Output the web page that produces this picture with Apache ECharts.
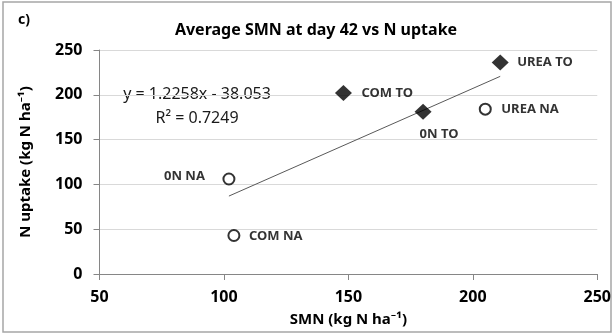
<!DOCTYPE html>
<html>
<head>
<meta charset="utf-8">
<script src="https://cdn.jsdelivr.net/npm/echarts@6/dist/echarts.min.js"></script>
<style>
  html, body { margin: 0; padding: 0; background: #fff; }
  #chart { width: 614px; height: 334px; }
</style>
</head>
<body>
<div id="chart"></div>
<script>
// treatments with top dressing (filled diamonds)
var toNames = ['COM TO', '0N TO', 'UREA TO'];
var toSmn = [148, 180, 211];
var toUptake = [202, 181, 236];

// treatments without (open circles)
var naNames = ['0N NA', 'COM NA', 'UREA NA'];
var naSmn = [102, 104, 205];
var naUptake = [106, 43, 184];

// linear trendline printed on the chart
var slope = 1.2258;
var intercept = -38.053;
var r2 = 0.7249;

var xTicks = [50, 100, 150, 200, 250];
var yTicks = [0, 50, 100, 150, 200, 250];

var font = 'Noto Sans';

// where each point label sits relative to its marker
var labelPlace = {
    'COM TO':  { align: 'left',   offset: [18, 0] },
    '0N TO':   { align: 'center', offset: [16, 22] },
    'UREA TO': { align: 'left',   offset: [17, 0] },
    '0N NA':   { align: 'right',  offset: [-24, -3] },
    'COM NA':  { align: 'left',   offset: [15, 1] },
    'UREA NA': { align: 'left',   offset: [16, 0] }
};

function points(names, xs, ys) {
    var res = [];
    for (var i = 0; i < names.length; i++) {
        var p = labelPlace[names[i]];
        res.push({
            name: names[i],
            value: [xs[i], ys[i]],
            label: {
                show: true,
                position: 'inside',
                align: p.align,
                verticalAlign: 'middle',
                offset: p.offset,
                formatter: '{b}',
                color: '#000',
                fontFamily: font,
                fontWeight: 'bold',
                fontSize: 13
            }
        });
    }
    return res;
}

var allX = toSmn.concat(naSmn);
var xMin = Math.min.apply(null, allX);
var xMax = Math.max.apply(null, allX);
var trend = [
    [xMin, slope * xMin + intercept],
    [xMax, slope * xMax + intercept]
];

var chart = echarts.init(document.getElementById('chart'));
var option = {
    animation: false,
    backgroundColor: '#fff',
    title: {
        text: 'Average SMN at day 42 vs N uptake',
        left: 311,
        textAlign: 'center',
        top: 17,
        textStyle: { fontFamily: font, fontWeight: 'bold', fontSize: 16, color: '#000' }
    },
    grid: { left: 99.5, right: 16, top: 50, bottom: 60 },
    xAxis: {
        type: 'value',
        min: xTicks[0],
        max: xTicks[xTicks.length - 1],
        interval: 50,
        name: 'SMN (kg N ha\u207B\u00B9)',
        nameLocation: 'middle',
        nameGap: 38,
        nameTextStyle: { fontFamily: font, fontWeight: 'bold', fontSize: 15, color: '#000' },
        axisLine: { show: true, onZero: false, lineStyle: { color: '#868686', width: 1 } },
        axisTick: { show: true, length: 6, lineStyle: { color: '#868686' } },
        axisLabel: { margin: 15, fontFamily: font, fontWeight: 'bold', fontSize: 16, color: '#000' },
        splitLine: { show: false }
    },
    yAxis: {
        type: 'value',
        min: yTicks[0],
        max: yTicks[yTicks.length - 1],
        interval: 50,
        name: 'N uptake (kg N ha\u207B\u00B9)',
        nameLocation: 'middle',
        nameGap: 66,
        nameTextStyle: { fontFamily: font, fontWeight: 'bold', fontSize: 15, color: '#000' },
        axisLine: { show: true, lineStyle: { color: '#868686', width: 1 } },
        axisTick: { show: true, length: 6, lineStyle: { color: '#868686' } },
        axisLabel: { margin: 17, fontFamily: font, fontWeight: 'bold', fontSize: 16, color: '#000' },
        splitLine: { show: true, lineStyle: { color: '#d9d9d9', width: 1 } }
    },
    graphic: [
        { type: 'rect', silent: true, shape: { x: 3, y: 2, width: 608, height: 330 },
          style: { fill: 'none', stroke: '#a6a6a6', lineWidth: 1.5 } },
        { type: 'text', left: 18, top: 13,
          style: { text: 'c)', fontFamily: font, fontWeight: 'bold', fontSize: 14, fill: '#000' } },
        { type: 'text', x: 197, y: 94,
          style: { text: 'y = ' + slope + 'x - ' + Math.abs(intercept).toFixed(3), align: 'center', verticalAlign: 'middle',
                   fontFamily: font, fontSize: 16, fill: '#1a1a1a' } },
        { type: 'text', x: 197, y: 118,
          style: { text: 'R\u00B2 = ' + r2, align: 'center', verticalAlign: 'middle',
                   fontFamily: font, fontSize: 16, fill: '#1a1a1a' } }
    ],
    series: [
        {
            name: 'trend',
            type: 'line',
            data: trend,
            symbol: 'none',
            silent: true,
            lineStyle: { color: '#595959', width: 1 },
            z: 1
        },
        {
            name: 'TO',
            type: 'scatter',
            symbol: 'diamond',
            symbolSize: [17, 16],
            itemStyle: { color: '#000' },
            data: points(toNames, toSmn, toUptake),
            z: 3
        },
        {
            name: 'NA',
            type: 'scatter',
            symbol: 'circle',
            symbolSize: 11,
            itemStyle: { color: '#fff', borderColor: '#000', borderWidth: 2 },
            data: points(naNames, naSmn, naUptake),
            z: 3
        }
    ]
};
chart.setOption(option);
</script>
</body>
</html>
